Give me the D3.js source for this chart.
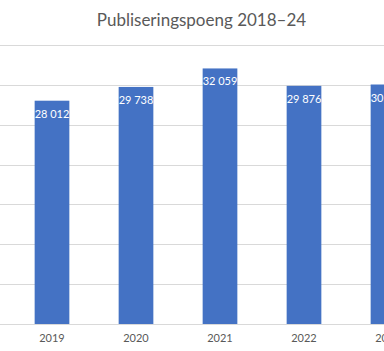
<!DOCTYPE html>
<meta charset="utf-8">
<script src="https://d3js.org/d3.v7.min.js"></script>
<style>
  body { margin: 0; background: #fff; }
  svg { display: block; }
</style>
<div id="chart"></div>
<script>
// years on the axis (2018 and 2024 fall outside the visible crop)
const years = ["2018", "2019", "2020", "2021", "2022", "2023", "2024"];
// publication points per year; null where the value is not visible
const points = [null, 28012, 29738, 32059, 29876, 30044, null];
const yTicks = [0, 5000, 10000, 15000, 20000, 25000, 30000, 35000];

const W = 384, H = 351;
const plot = {left: -74, right: 514, top: 45, bottom: 324};

const svg = d3.select("#chart").append("svg")
    .attr("width", W)
    .attr("height", H);

const x = d3.scaleBand()
  .domain(years)
  .range([plot.left, plot.right])
  .paddingInner(0.587)
  .paddingOuter(0.2935);

const y = d3.scaleLinear()
  .domain([0, 35000])
  .range([plot.bottom, plot.top]);

// gridlines
svg.append("g")
  .selectAll("line")
  .data(yTicks)
  .join("line")
    .attr("x1", plot.left)
    .attr("x2", plot.right)
    .attr("y1", d => Math.round(y(d)) + 0.5)
    .attr("y2", d => Math.round(y(d)) + 0.5)
    .attr("stroke", "#d9d9d9")
    .attr("stroke-width", 1);

const data = years.map((d, i) => ({year: d, value: points[i]})).filter(d => d.value != null);
const fmt = v => d3.format(",")(v).replace(",", " ");

// bars
svg.append("g")
  .selectAll("rect")
  .data(data)
  .join("rect")
    .attr("x", d => x(d.year))
    .attr("y", d => y(d.value))
    .attr("width", x.bandwidth())
    .attr("height", d => y(0) - y(d.value))
    .attr("fill", "#4472c4");

// data labels
svg.append("g")
  .selectAll("text")
  .data(data)
  .join("text")
    .attr("x", d => x(d.year) + x.bandwidth() / 2)
    .attr("y", d => y(d.value) + 17)
    .attr("text-anchor", "middle")
    .attr("fill", "#fff")
    .style("font", "11px Lato, 'Open Sans', sans-serif")
    .text(d => fmt(d.value));

// x axis labels
svg.append("g")
  .selectAll("text")
  .data(years)
  .join("text")
    .attr("x", d => x(d) + x.bandwidth() / 2)
    .attr("y", 342)
    .attr("text-anchor", "middle")
    .attr("fill", "#595959")
    .style("font", "11px Lato, 'Open Sans', sans-serif")
    .text(d => d);

// title
svg.append("text")
  .attr("x", 201.5)
  .attr("y", 26)
  .attr("text-anchor", "middle")
  .attr("fill", "#595959")
  .style("font", "17px Lato, 'Open Sans', sans-serif")
  .text("Publiseringspoeng 2018–24");
</script>
